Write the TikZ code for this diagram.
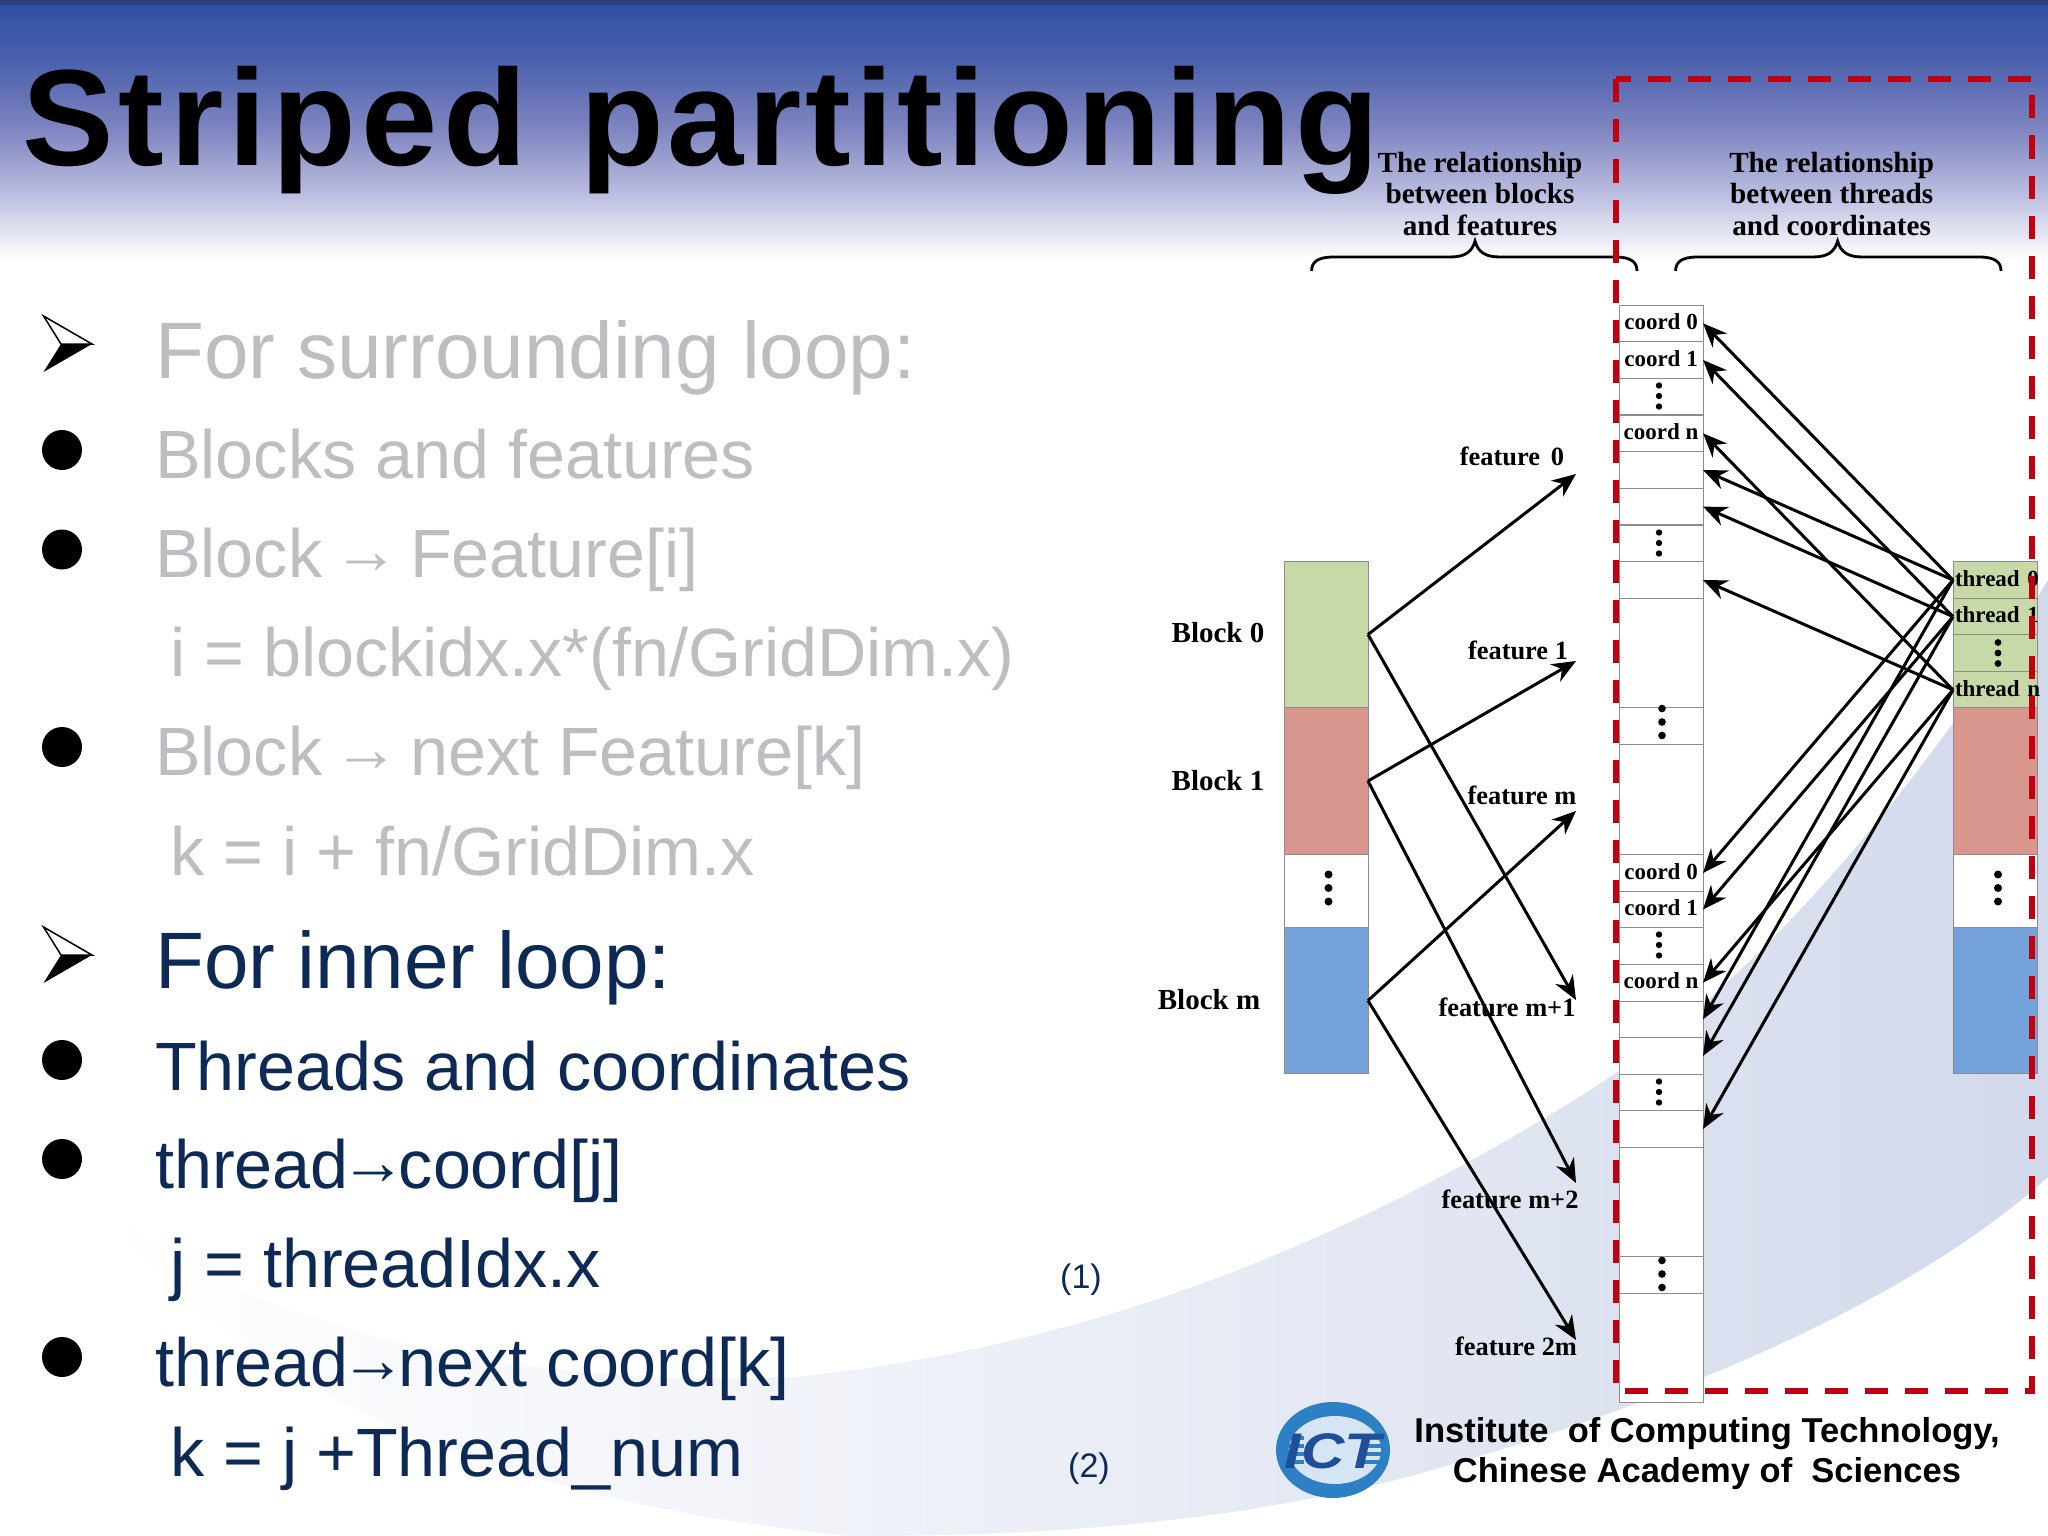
\documentclass[tikz,border=0pt]{standalone}
\usepackage{fontspec}
\setmainfont{Liberation Sans}
\newfontfamily\titlefont[LetterSpace=3]{Liberation Sans}
\newfontfamily\titlewide[LetterSpace=4]{Liberation Sans}
\newfontfamily\figfont{Liberation Serif}
\usetikzlibrary{arrows.meta}
\definecolor{hdtop}{HTML}{2A3F7C}
\definecolor{hdA}{HTML}{2F50A4}
\definecolor{hdB}{HTML}{4A60AC}
\definecolor{hdC}{HTML}{8288C2}
\definecolor{hdD}{HTML}{C0C3E2}
\definecolor{swoosh}{HTML}{D2D9EB}
\definecolor{fadedtext}{HTML}{BEBEC2}
\definecolor{navytext}{HTML}{0C2A55}
\definecolor{cellgreen}{HTML}{C8D9A8}
\definecolor{cellred}{HTML}{D9968F}
\definecolor{cellblue}{HTML}{73A2DA}
\definecolor{cellline}{HTML}{8C8C8C}
\definecolor{boxred}{HTML}{C00010}
\definecolor{logoblue}{HTML}{2D80C4}
\definecolor{logodark}{HTML}{1F4F98}
\newcommand{\smallarrow}{\hspace{-8pt}\raisebox{4pt}{\fontsize{66}{66}\selectfont →}\hspace{-8pt}}
\begin{document}
\begin{tikzpicture}[x=1pt,y=-1pt,
    headtext/.style={anchor=base west,inner sep=0pt,font=\fontsize{80}{82}\selectfont},
    subtext/.style={anchor=base west,inner sep=0pt,font=\fontsize{68.3}{70}\selectfont},
    eqnum/.style={anchor=base west,inner sep=0pt,text=navytext,font=\fontsize{34}{36}\selectfont},
    dotbullet/.style={circle,fill=black,inner sep=0pt,minimum size=40pt},
    cell/.style={draw=cellline,line width=1pt,inner sep=0pt,outer sep=0pt,minimum width=84pt,
        text height=1.25em,text depth=0pt,font=\figfont\bfseries\fontsize{23}{24}\selectfont},
    thcell/.style={cell,fill=cellgreen,minimum height=36.6pt,text width=84pt,align=left},
    figlabel/.style={inner sep=0pt,font=\figfont\bfseries\fontsize{26.4}{28}\selectfont},
    blocklabel/.style={inner sep=0pt,font=\figfont\bfseries\fontsize{29}{31}\selectfont},
    toplabel/.style={inner sep=0pt,align=center,font=\figfont\bfseries\fontsize{29.2}{31.3}\selectfont},
    link/.style={line width=3pt,-{Stealth[length=24pt,width=20pt]}}]
    \useasboundingbox (0,0) rectangle (2048,1536);
    \fill[white] (0,0) rectangle (2048,1536);

    % header band
    \fill[hdtop] (0,0) rectangle (2048,7);
    \shade[top color=hdA,bottom color=hdB] (0,6) rectangle (2048,60);
    \shade[top color=hdB,bottom color=hdC] (0,59) rectangle (2048,134);
    \shade[top color=hdC,bottom color=hdD] (0,133) rectangle (2048,200);
    \shade[top color=hdD,bottom color=white] (0,199) rectangle (2048,260);

    % swoosh
    \shade[left color=white,right color=swoosh,middle color=swoosh!45]
        (100,1203) .. controls (230,1320) and (500,1390) .. (796,1377)
        .. controls (1100,1345) and (1350,1240) .. (1584,1094)
        .. controls (1750,990) and (1920,790) .. (2048,580)
        -- (2048,1177) .. controls (1900,1310) and (1650,1410) .. (1407,1477)
        .. controls (1200,1530) and (1000,1536) .. (850,1536)
        .. controls (500,1500) and (250,1400) .. (100,1203) -- cycle;

    % title
    \node[anchor=base west,inner sep=0pt,font=\bfseries\fontsize{137}{140}\selectfont]
        (title) at (22,165) {{\titlewide Striped}\hspace{15pt} {\titlefont partitioning}};

    % left text
    \foreach \ya in {344,955} {
        \fill[black] (43.5,\ya+28) -- (92,\ya) -- (61,\ya) -- cycle;
        \filldraw[fill=white,draw=black,line width=1.5pt] (43.5,\ya-28) -- (92,\ya) -- (61,\ya) -- cycle;
    }
    \foreach \yb in {450,549.5,747,1060,1159,1357}
        \node[dotbullet] (bul\yb) at (62,\yb) {};

    \node[headtext,text=fadedtext] (surround) at (155,378) {For surrounding loop:};
    \node[subtext,text=fadedtext] (blockfeat) at (155,478) {Blocks and features};
    \node[subtext,text=fadedtext] (blockto) at (155,577) {Block \smallarrow\ Feature[i]};
    \node[subtext,text=fadedtext] (ieq) at (170,676) {i = blockidx.x*(fn/GridDim.x)};
    \node[subtext,text=fadedtext] (blocknext) at (155,775) {Block \smallarrow\ next Feature[k]};
    \node[subtext,text=fadedtext] (keqa) at (170,875) {k = i + fn/GridDim.x};
    \node[headtext,text=navytext] (inner) at (155,988) {For inner loop:};
    \node[subtext,text=navytext] (threadcoord) at (155,1090) {Threads and coordinates};
    \node[subtext,text=navytext] (threadto) at (155,1188) {thread\smallarrow coord[j]};
    \node[subtext,text=navytext] (jeq) at (170,1287) {j = threadIdx.x};
    \node[subtext,text=navytext] (threadnext) at (155,1386) {thread\smallarrow next coord[k]};
    \node[subtext,text=navytext] (keqb) at (170,1476) {k = j +Thread\_num};
    \node[eqnum] (eqa) at (1060,1288) {(1)};
    \node[eqnum] (eqb) at (1068,1477) {(2)};

    % logo and institute
    \fill[logoblue] (1333,1450) ellipse (57pt and 48pt);
    \fill[white!80!logoblue] (1335,1450) ellipse (46pt and 34pt);
    \foreach \ys in {1438,1446,1454,1462} {
        \draw[logoblue,line width=4pt] (1279,\ys) -- (1304,\ys);
        \draw[logoblue,line width=4pt] (1364,\ys) -- (1388,\ys);
    }
    \node[inner sep=0pt,text=logodark,font=\bfseries\itshape\fontsize{50}{50}\selectfont] (ict) at (1333,1451) {\scalebox{1.2}[1]{ICT}};
    \node[inner sep=0pt,align=center,font=\bfseries\fontsize{34.5}{40}\selectfont] (institute) at (1707,1454)
        {Institute\ \ of Computing Technology,\\Chinese Academy of\ \ Sciences};

    % blocks and features
    \node[cell,fill=cellgreen,minimum height=146pt] (blk0) at (1326,634.5) {};
    \node[cell,fill=cellred,minimum height=147pt] (blk1) at (1326,781) {};
    \node[cell,fill=white,minimum height=73pt] (blkd) at (1326,891) {};
    \node[cell,fill=cellblue,minimum height=146pt] (blkm) at (1326,1000.6) {};
    \node[blocklabel] (lb0) at (1218,633) {Block 0};
    \node[blocklabel] (lb1) at (1218,781) {Block 1};
    \node[blocklabel] (lbm) at (1209,1000) {Block m};

    \coordinate (f0) at (1576,474);
    \coordinate (f1) at (1576,661);
    \coordinate (fm) at (1576,811);
    \coordinate (fm1) at (1576,1000);
    \coordinate (fm2) at (1576,1183);
    \coordinate (f2m) at (1576,1340);
    \node[figlabel] (lf0) at (1512,456) {feature\ \,0};
    \node[figlabel] (lf1) at (1518,650) {feature\ 1};
    \node[figlabel] (lfm) at (1522,795) {feature\ m};
    \node[figlabel] (lfm1) at (1507,1007.5) {feature\ m+1};
    \node[figlabel] (lfm2) at (1510,1199.5) {feature\ m+2};
    \node[figlabel] (lf2m) at (1516,1346.6) {feature\ 2m};

    \foreach \src/\dst in {blk0/f0,blk0/fm1,blk1/f1,blk1/fm2,blkm/fm,blkm/f2m}
        \draw[link] (\src.east) -- (\dst);

    % coordinate column
    \foreach \i/\yc/\txt in {0/323.3/coord 0,1/360/coord 1,2/396.6/{},3/433.3/coord n,4/470/{},5/506.6/{},6/543.3/{},7/580/{}}
        \node[cell,fill=white,minimum height=36.6pt] (cu\i) at (1661,\yc) {\txt};
    \foreach \i/\yc/\txt in {0/873/coord 0,1/909.5/coord 1,2/946/{},3/982.7/coord n,4/1019.3/{},5/1055.9/{},6/1092.5/{},7/1129/{}}
        \node[cell,fill=white,minimum height=36.6pt] (cl\i) at (1661,\yc) {\txt};
    \node[cell,fill=white,minimum height=109.2pt] (bigA) at (1661,652.9) {};
    \node[cell,fill=white,minimum height=36.6pt] (dotsA) at (1661,725.8) {};
    \node[cell,fill=white,minimum height=110.5pt] (bigB) at (1661,799.3) {};
    \node[cell,fill=white,minimum height=109.1pt] (bigC) at (1661,1202) {};
    \node[cell,fill=white,minimum height=36.6pt] (dotsB) at (1661,1274.8) {};
    \node[cell,fill=white,minimum height=109.6pt] (bigD) at (1661,1347.9) {};

    % thread column
    \node[thcell] (th0) at (1995,580) {\mbox{\hspace*{2pt}\rlap{thread 0}}};
    \node[thcell] (th1) at (1995,616.6) {\mbox{\hspace*{2pt}\rlap{thread 1}}};
    \node[thcell] (thd) at (1995,653.2) {};
    \node[thcell] (thn) at (1995,689.8) {\mbox{\hspace*{2pt}\rlap{thread n}}};
    \node[cell,fill=cellred,minimum height=147pt] (rb1) at (1995,781) {};
    \node[cell,fill=white,minimum height=73pt] (rbd) at (1995,891) {};
    \node[cell,fill=cellblue,minimum height=146pt] (rbm) at (1995,1000.6) {};

    % dots inside cells
    \foreach \xd/\yd/\gapd/\rd in {1659/396/10.5/3.2,1659/543/10.5/3.2,1662/722/13.5/3.8,1659/945/10.5/3.2,
            1659/1092/10.5/3.2,1662/1274/13.5/3.8,1328.5/888/13.5/4,1998/888/13.5/4,1998/653/10.5/3.4}
        \foreach \k in {-1,0,1}
            \fill (\xd,\yd+\k*\gapd) circle (\rd pt);

    \foreach \src/\dst in {th0/cu0,th1/cu1,thn/cu3,th0/cu4,th1/cu5,thn/cu7,
            th0/cl0,th1/cl1,thn/cl3,th0/cl4,th1/cl5,thn/cl7}
        \draw[link] (\src.west) -- (\dst.east);

    % top labels and braces
    \node[toplabel] (relblock) at (1480,194) {The relationship\\between blocks\\and features};
    \node[toplabel] (relthread) at (1831.6,194) {The relationship\\between threads\\and coordinates};
    \foreach \xa/\xm/\xb in {1311.6/1475/1637,1675.6/1837.6/2001}
        \draw[line width=2.8pt] (\xa,271) .. controls (\xa,262) and (\xa+6,257) .. (\xa+22,257)
            -- (\xm-25,257) .. controls (\xm-10,257) and (\xm-3,252) .. (\xm,241)
            .. controls (\xm+3,252) and (\xm+10,257) .. (\xm+25,257)
            -- (\xb-22,257) .. controls (\xb-6,257) and (\xb,262) .. (\xb,271);

    % dashed box
    \draw[boxred,line width=6pt,dash pattern=on 23pt off 17pt] (1616,79.5) rectangle (2032,1391);
\end{tikzpicture}
\end{document}
